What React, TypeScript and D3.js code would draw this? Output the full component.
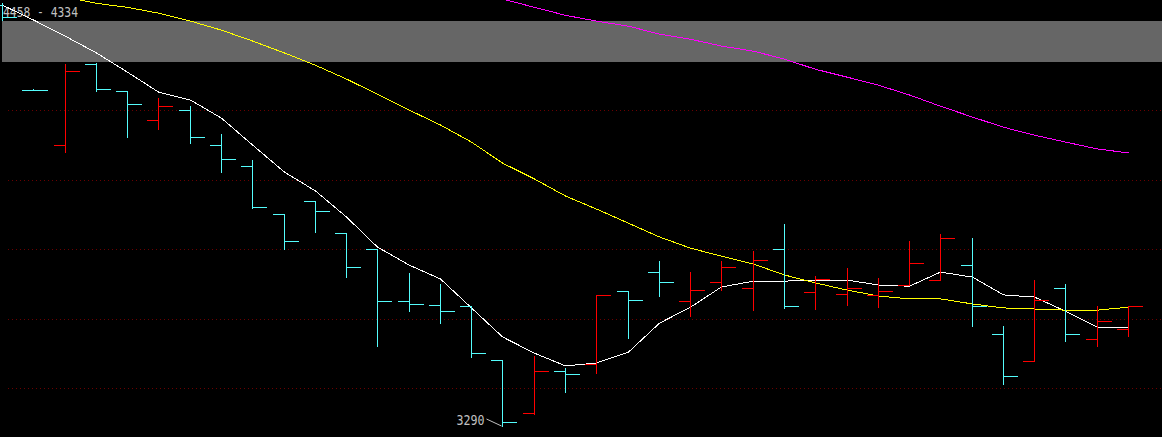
import * as d3 from "d3";

// daily OHLC
const opens = [4452, 4217, 4066, 4289, 4215, 4135, 4162, 4066, 4008, 3875, 3911, 3823, 3779, 3635, 3624, 3621, 3472, 3326, 3442, 3461, 3663, 3715, 3635, 3687, 3671, 3779, 3660, 3654, 3652, 3679, 3693, 3734, 3544, 3469, 3671, 3530, 3558];
const highs = [4458, 4220, 4289, 4292, 4215, 4195, 4173, 4096, 4024, 3875, 3911, 3823, 3779, 3712, 3682, 3621, 3472, 3483, 3450, 3652, 3663, 3745, 3715, 3745, 3773, 3848, 3704, 3726, 3698, 3801, 3820, 3809, 3566, 3693, 3682, 3621, 3621];
const lows = [4411, 4217, 4046, 4215, 4088, 4110, 4071, 3991, 3892, 3779, 3825, 3701, 3511, 3607, 3574, 3480, 3290, 3323, 3384, 3436, 3533, 3649, 3594, 3665, 3610, 3616, 3613, 3624, 3618, 3679, 3693, 3566, 3406, 3469, 3525, 3511, 3538];
const closes = [4419, 4217, 4270, 4220, 4179, 4173, 4088, 4027, 3894, 3801, 3883, 3729, 3635, 3627, 3607, 3491, 3301, 3442, 3434, 3652, 3638, 3687, 3665, 3729, 3748, 3621, 3696, 3671, 3663, 3740, 3809, 3621, 3428, 3638, 3544, 3580, 3621];

// moving averages (white from bar 0, yellow from bar 2, magenta from bar 16)
const maWhite = [4452, 4411, 4366, 4320, 4267, 4212, 4190, 4140, 4066, 3991, 3939, 3867, 3784, 3734, 3696, 3616, 3536, 3491, 3456, 3464, 3494, 3574, 3618, 3674, 3690, 3690, 3693, 3693, 3679, 3676, 3715, 3701, 3652, 3646, 3607, 3563, 3563];
const maYellow = [4474, 4457, 4446, 4430, 4408, 4383, 4353, 4320, 4286, 4248, 4206, 4162, 4121, 4074, 4016, 3972, 3925, 3889, 3850, 3812, 3781, 3759, 3737, 3707, 3685, 3665, 3649, 3641, 3641, 3627, 3616, 3613, 3610, 3610, 3618];
const maMagenta = [4469, 4446, 4424, 4408, 4394, 4372, 4358, 4339, 4325, 4303, 4275, 4253, 4231, 4204, 4173, 4143, 4115, 4093, 4074, 4055, 4044];

const gridPrices = [3395, 3585, 3779, 3969, 4162, 4354];
const bandPrices = [4408, 4295];
const rangeText = "4458 - 4334";
const lowText = "3290";

const W = 1162;
const H = 437;
const UP = "#ff0000";
const DOWN = "#54fcfc";

export default function App() {
  const x = d3.scalePoint<number>().domain(d3.range(opens.length)).range([2, 1128]);
  const y = d3.scaleLinear().domain([3290, 4458]).range([426, 3]);
  const px = (i: number) => Math.round(x(i) as number) + 0.5;
  const py = (v: number) => Math.round(y(v)) + 0.5;

  const maLine = (vals: number[], start: number) =>
    d3
      .line<number>()
      .x((_, i) => px(i + start))
      .y((v) => y(v))(vals) || "";

  const lowIdx = lows.indexOf(d3.min(lows) as number);
  const lx = px(lowIdx);
  const ly = y(d3.min(lows) as number);

  return (
    <svg
      width={W}
      height={H}
      style={{ position: "absolute", left: 0, top: 0, background: "#000", display: "block" }}
    >
      <rect width={W} height={H} fill="#000" />
      {gridPrices.map((g) => (
        <line
          key={g}
          x1={8}
          x2={W}
          y1={py(g)}
          y2={py(g)}
          stroke="#6a0000"
          strokeDasharray="1 3"
          shapeRendering="crispEdges"
        />
      ))}
      <rect
        x={2}
        y={Math.round(y(bandPrices[0]))}
        width={W - 2}
        height={Math.round(y(bandPrices[1])) - Math.round(y(bandPrices[0]))}
        fill="#666666"
      />
      <text
        x={3}
        y={17}
        fill="#c0c0c0"
        fontFamily="DejaVu Sans Mono"
        fontSize={14}
        textLength={75}
        lengthAdjust="spacingAndGlyphs"
      >
        {rangeText}
      </text>
      <text
        x={lx - 18}
        y={ly - 1}
        fill="#c0c0c0"
        fontFamily="DejaVu Sans Mono"
        fontSize={14}
        textAnchor="end"
        textLength={28}
        lengthAdjust="spacingAndGlyphs"
      >
        {lowText}
      </text>
      <line x1={lx - 16} y1={ly - 7} x2={lx - 1} y2={ly} stroke="#c0c0c0" />

      <g fill="none" strokeWidth={1} shapeRendering="crispEdges">
        <path d={maLine(maWhite, 0)} stroke="#ffffff" />
        <path d={maLine(maYellow, 2)} stroke="#ffff00" />
        <path d={maLine(maMagenta, 16)} stroke="#ff00ff" />
      </g>

      <g strokeWidth={1} shapeRendering="crispEdges">
        {opens.map((o, i) => {
          const c = closes[i];
          const col = c > o ? UP : DOWN;
          const cx = px(i);
          return (
            <g key={i} stroke={col}>
              <line x1={cx} x2={cx} y1={py(highs[i]) - 0.5} y2={py(lows[i]) + 0.5} />
              <line x1={cx - 12} x2={cx} y1={py(o)} y2={py(o)} />
              <line x1={cx} x2={cx + 14} y1={py(c)} y2={py(c)} />
            </g>
          );
        })}
      </g>
    </svg>
  );
}
